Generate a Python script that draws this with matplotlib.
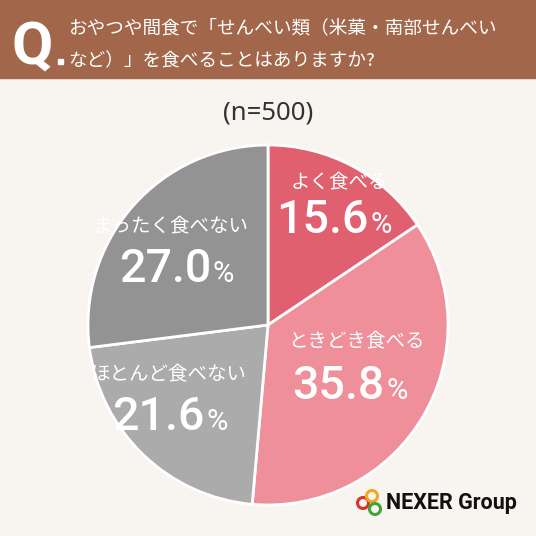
import matplotlib
matplotlib.use("Agg")
import matplotlib.pyplot as plt
from matplotlib.patches import Rectangle, Circle

categories = ["よく食べる", "ときどき食べる", "ほとんど食べない", "まったく食べない"]
values = [15.6, 35.8, 21.6, 27.0]
colors = ["#E0606F", "#EE8F9A", "#ABABAB", "#939393"]
title_lines = ["おやつや間食で「せんべい類（米菓・南部せんべい", "など）」を食べることはありますか?"]
n_label = "(n=500)"

JP = ["Noto Sans CJK JP", "DejaVu Sans"]
NUM = ["Roboto", "DejaVu Sans"]
W = H = 536
fig = plt.figure(figsize=(W / 100, H / 100), dpi=100)
fig.patch.set_facecolor("#F8F4F0")
bg = fig.add_axes([0, 0, 1, 1])
bg.set_xlim(0, W)
bg.set_ylim(H, 0)
bg.axis("off")

# header
bg.add_patch(Rectangle((0, 0), W, 78, color="#A2664A", zorder=0))
bg.text(32, 64, "Q", color="white", fontsize=43, fontweight="bold", family=NUM,
        ha="center", va="baseline")
bg.add_patch(Rectangle((57.5, 59), 5, 5, color="white", zorder=2))
bg.text(68, 28, title_lines[0], color="white", fontsize=13.4, family=JP, va="center", ha="left")
bg.text(68, 61, title_lines[1], color="white", fontsize=13.4, family=JP, va="center", ha="left")

bg.text(268, 113, n_label, color="#333333", fontsize=18.5, family=["Noto Sans", "DejaVu Sans"],
        ha="center", va="center")

# pie
cx, cy, r = 268, 325, 180
pax = fig.add_axes([(cx - r) / W, (H - cy - r) / H, 2 * r / W, 2 * r / H])
pax.pie(values, colors=colors, startangle=90, counterclock=False,
        wedgeprops=dict(edgecolor="white", linewidth=2))
pax.set_xlim(-1, 1)
pax.set_ylim(-1, 1)
pax.set_aspect("equal")
pax.axis("off")

# overlay for text
top = fig.add_axes([0, 0, 1, 1])
top.set_xlim(0, W)
top.set_ylim(H, 0)
top.axis("off")
top.patch.set_alpha(0)

# (label center x, label y, number right x, number baseline y)
label_pos = [(339, 183, 369, 233), (356, 342, 384, 399), (169, 375, 204, 430), (170, 227, 211, 282)]
for cat, v, (lx, ly, px, py) in zip(categories, values, label_pos):
    top.text(lx, ly, cat, color="white", fontsize=14, family=JP, ha="center", va="center")
    top.text(px, py, f"{v:.1f}", color="white", fontsize=33.5, fontweight="medium",
             family=NUM, ha="right", va="baseline")
    top.text(px + 2, py, "%", color="white", fontsize=21,
             family=NUM, ha="left", va="baseline")

# logo
for (x, y, c) in [(363, 503, "#D8342C"), (372, 496, "#F0A823"), (375, 509, "#3FA53A")]:
    top.add_patch(Circle((x, y), 5.5, fill=False, edgecolor=c, linewidth=2.2))
top.text(386, 503, "NEXER Group", color="#111111", fontsize=15.5, fontweight="bold",
         family=["Roboto", "DejaVu Sans"], ha="left", va="center")

fig.savefig("out.png", dpi=100, facecolor=fig.get_facecolor())
